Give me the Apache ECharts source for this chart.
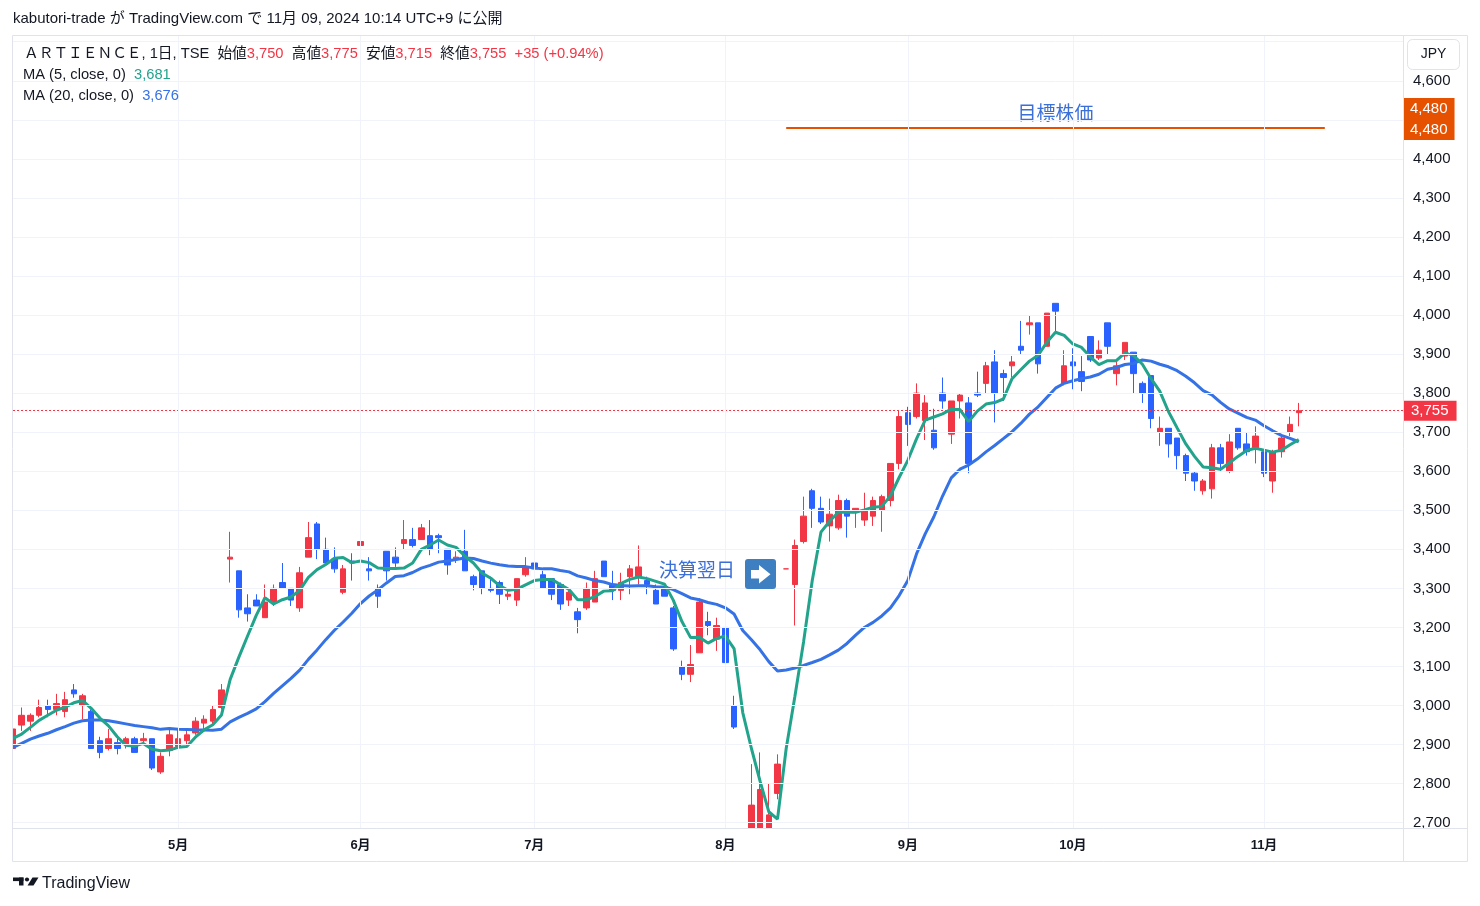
<!DOCTYPE html>
<html><head><meta charset="utf-8">
<script src="https://cdn.jsdelivr.net/npm/echarts@6/dist/echarts.min.js"></script>
<style>html,body{margin:0;padding:0;background:#fff}#c{width:1480px;height:906px}</style>
</head><body><div id="c"></div>
<script>
// ---- data ----
const dates = [
'04/03','04/04','04/05','04/08','04/09','04/10','04/11','04/12','04/15','04/16','04/17','04/18','04/19','04/22','04/23','04/24','04/25','04/26','04/30',
'05/01','05/02','05/07','05/08','05/09','05/10','05/13','05/14','05/15','05/16','05/17','05/20','05/21','05/22','05/23','05/24','05/27','05/28','05/29','05/30','05/31',
'06/03','06/04','06/05','06/06','06/07','06/10','06/11','06/12','06/13','06/14','06/17','06/18','06/19','06/20','06/21','06/24','06/25','06/26','06/27','06/28',
'07/01','07/02','07/03','07/04','07/05','07/08','07/09','07/10','07/11','07/12','07/16','07/17','07/18','07/19','07/22','07/23','07/24','07/25','07/26','07/29','07/30','07/31',
'08/01','08/02','08/05','08/06','08/07','08/08','08/09','08/13','08/14','08/15','08/16','08/19','08/20','08/21','08/22','08/23','08/26','08/27','08/28','08/29','08/30',
'09/02','09/03','09/04','09/05','09/06','09/09','09/10','09/11','09/12','09/13','09/17','09/18','09/19','09/20','09/24','09/25','09/26','09/27','09/30',
'10/01','10/02','10/03','10/04','10/07','10/08','10/09','10/10','10/11','10/15','10/16','10/17','10/18','10/21','10/22','10/23','10/24','10/25','10/28','10/29','10/30','10/31',
'11/01','11/05','11/06','11/07','11/08'];
const futureDates = ['11/11','11/12','11/13','11/14','11/15','11/18','11/19','11/20','11/21','11/22','11/25','11/26'];

const open = [
2890,2950,2960,2975,3000,2990,2985,3040,3000,2985,2910,2890,2905,2900,2915,2910,2915,2830,2885,
2895,2910,2930,2955,2960,2995,3375,3345,3250,3270,3225,3265,3315,3300,3250,3380,3465,3400,3375,3290,3370,
3410,3350,3300,3395,3380,3415,3425,3425,3435,3435,3400,3375,3395,3330,3345,3300,3315,3280,3270,3335,
3365,3335,3325,3310,3270,3240,3250,3265,3370,3310,3295,3330,3330,3320,3295,3305,3250,3100,3080,3135,3215,3170,
3200,3000,2680,2560,2660,2665,2775,3350,3310,3420,3550,3505,3460,3455,3525,3495,3475,3485,3500,3525,3620,
3750,3740,3730,3705,3800,3695,3780,3775,3800,3825,3880,3850,3870,3920,3975,3980,3920,4030,3825,
3880,3855,3945,3890,3980,3850,3895,3905,3825,3845,3700,3710,3685,3640,3595,3550,3555,3660,3600,3710,3670,3660,
3650,3575,3650,3700,3750];
const high = [
2965,2995,2980,3015,3015,3030,3035,3055,3030,2990,2920,2940,2920,2920,2920,2930,2915,2880,2940,
2940,2935,2970,2975,3000,3055,3445,3345,3285,3285,3310,3310,3365,3300,3355,3470,3470,3430,3405,3360,3390,
3460,3380,3310,3395,3405,3475,3455,3465,3475,3440,3400,3395,3450,3335,3345,3330,3320,3295,3325,3380,
3390,3345,3325,3315,3300,3250,3315,3345,3370,3345,3340,3360,3410,3330,3310,3310,3255,3115,3155,3275,3240,3225,
3200,3025,2680,2850,2880,2800,2875,3350,3425,3535,3555,3535,3530,3540,3530,3505,3545,3535,3540,3620,3755,
3765,3825,3795,3760,3840,3780,3800,3790,3855,3880,3910,3860,3895,3985,4000,3980,4005,4030,3910,
3915,3895,3945,3935,3980,3885,3930,3905,3830,3845,3740,3710,3685,3645,3600,3580,3670,3670,3695,3710,3700,3715,
3650,3655,3690,3740,3775];
const low = [
2885,2935,2935,2970,2970,2975,2970,3020,2965,2890,2865,2885,2875,2890,2880,2900,2835,2825,2870,
2890,2900,2925,2940,2950,2990,3315,3225,3215,3255,3225,3255,3300,3255,3240,3380,3375,3365,3340,3285,3320,
3400,3320,3250,3320,3355,3400,3405,3425,3385,3390,3335,3365,3345,3295,3285,3290,3260,3270,3255,3330,
3330,3300,3270,3245,3255,3185,3245,3265,3330,3270,3270,3285,3310,3285,3260,3280,3140,3065,3060,3135,3180,3140,
3100,2940,2445,2540,2640,2640,2760,3350,3205,3415,3455,3465,3420,3450,3430,3455,3460,3460,3445,3510,3605,
3665,3735,3680,3655,3760,3670,3735,3595,3790,3800,3725,3780,3840,3900,3950,3850,3920,3955,3820,
3810,3805,3880,3885,3900,3820,3885,3800,3775,3710,3665,3635,3605,3575,3550,3540,3530,3600,3595,3655,3640,3620,
3585,3545,3635,3690,3715];
const close = [
2940,2975,2975,2995,2990,3005,3015,3030,3025,2890,2880,2915,2890,2915,2880,2915,2840,2870,2925,
2915,2925,2960,2965,2990,3040,3380,3245,3235,3255,3265,3300,3300,3270,3340,3430,3400,3365,3350,3350,3365,
3420,3345,3280,3345,3365,3425,3410,3455,3400,3430,3360,3380,3345,3310,3300,3295,3285,3285,3325,3355,
3350,3300,3285,3260,3290,3220,3300,3325,3330,3295,3315,3350,3355,3310,3260,3280,3145,3080,3105,3265,3205,3205,
3110,2945,2445,2745,2785,2720,2850,3350,3410,3485,3505,3470,3490,3525,3485,3505,3500,3525,3535,3620,3740,
3720,3800,3775,3660,3780,3780,3795,3620,3795,3870,3800,3840,3880,3910,3980,3875,4005,4010,3870,
3870,3830,3885,3910,3920,3870,3930,3850,3800,3735,3710,3670,3640,3595,3575,3575,3660,3620,3675,3660,3650,3690,
3595,3650,3685,3720,3755];
const ma5Head  = [2916, 2927, 2944, 2962];
const ma20Head = [2893,2903,2914,2922,2929,2938,2946,2955,2961,2963,2963,2961,2957,2953,2949,2946,2943,2939,2941];
const targetPrice = 4480;
const targetFrom = '08/13', targetTo = '11/13';

// ---- build ----
const categories = dates.concat(futureDates);
const candles = open.map((o, i) => [o, close[i], low[i], high[i]]);
function movingAvg(n, head) {
  return close.map((c, i) => {
    if (i < n - 1) return head[i];
    let s = 0; for (let k = i - n + 1; k <= i; k++) s += close[k];
    return +(s / n).toFixed(2);
  });
}
const ma5 = movingAvg(5, ma5Head);
const ma20 = movingAvg(20, ma20Head);
const monthOf = s => +s.slice(0, 2);
const isMonthStart = i => i > 0 && i < categories.length && monthOf(categories[i]) !== monthOf(categories[i - 1]);
const fmt = v => Math.round(v).toLocaleString('en-US');
const n = close.length - 1;
const chg = close[n] - close[n - 1];
const chgPct = (chg / close[n - 1] * 100).toFixed(2);
const sgn = chg >= 0 ? '+' : '';

const FONT = "'Liberation Sans', 'Noto Sans CJK JP', sans-serif";
const RED = '#f23645', BLUE = '#2962ff', MA5C = '#22a38b', MA20C = '#3472e6', ORANGE = '#e65100', TXTBLUE = '#3a6fd8';
const GRIDC = '#f0f3fa', FRAME = '#e0e3eb', INK = '#131722';
const LF = 14.7;

const chart = echarts.init(document.getElementById('c'));
chart.setOption({
  animation: false,
  backgroundColor: '#ffffff',
  textStyle: { fontFamily: FONT },
  grid: [
    { left: 13, right: 77, top: 36, bottom: 78, outerBoundsMode: 'none', containLabel: false },
    { left: 13, right: 77, top: 41.7, bottom: 83.3, outerBoundsMode: 'none', containLabel: false }
  ],
  xAxis: [
    { type: 'category', gridIndex: 0, data: categories, boundaryGap: false, z: 10,
      axisLine: { show: false }, axisTick: { show: false },
      axisLabel: { interval: (i) => isMonthStart(i), formatter: (v) => monthOf(v) + '月',
        fontWeight: 'bold', fontSize: 13, color: INK, margin: 11, fontFamily: FONT },
      splitLine: { show: true, interval: (i) => isMonthStart(i), lineStyle: { color: GRIDC, width: 1 } } },
    { type: 'value', gridIndex: 1, min: 0, max: 1, show: false }
  ],
  yAxis: [
    { type: 'value', gridIndex: 0, min: 2686.4, max: 4714.6, show: false, splitLine: { show: false } },
    { type: 'value', gridIndex: 1, min: 2700, max: 4700, interval: 100, position: 'right', z: 10,
      axisLine: { show: false }, axisTick: { show: false },
      axisLabel: { margin: 10, fontSize: 15, color: INK, fontFamily: FONT,
        formatter: v => (v === 4700 || v === 4500) ? '' : fmt(v) },
      splitLine: { show: true, lineStyle: { color: GRIDC, width: 1 } } }
  ],
  series: [
    { type: 'candlestick', name: 'ARTIENCE', xAxisIndex: 0, yAxisIndex: 0, data: candles, barWidth: 6, z: 3, clip: true,
      itemStyle: { color: RED, color0: BLUE, borderColor: RED, borderColor0: BLUE, borderWidth: 1 },
      markLine: {
        silent: true, symbol: ['none', 'none'], animation: false,
        data: [
          [ { coord: [targetFrom, targetPrice], lineStyle: { color: ORANGE, width: 2, type: 'solid' },
              label: { show: true, position: 'insideMiddleTop', distance: 3, formatter: () => '目標株価',
                       color: TXTBLUE, fontSize: 19, fontFamily: FONT } },
            { coord: [targetTo, targetPrice] } ],
          { yAxis: close[n], lineStyle: { color: RED, width: 1, type: [2, 2], opacity: 1 },
            label: { show: true, position: 'end', distance: 0, formatter: () => fmt(close[n]),
                     backgroundColor: RED, color: '#fff', padding: [3, 8, 2, 8], fontSize: 15, fontFamily: FONT } },
          { yAxis: targetPrice, lineStyle: { color: 'rgba(0,0,0,0)', width: 1, opacity: 1 },
            label: { show: true, position: 'end', distance: 0,
              formatter: () => '{tag|' + fmt(targetPrice) + '}\n{tag|' + fmt(targetPrice) + '}\n{sp| }',
              rich: {
                tag: { backgroundColor: ORANGE, color: '#fff', fontSize: 15, padding: [0, 7], height: 21, lineHeight: 21, fontFamily: FONT },
                sp: { fontSize: 10, height: 17, lineHeight: 17 }
              } } }
        ]
      } },
    { type: 'line', name: 'MA20', xAxisIndex: 0, yAxisIndex: 0, data: ma20, showSymbol: false, z: 4,
      lineStyle: { color: MA20C, width: 3 }, itemStyle: { color: MA20C } },
    { type: 'line', name: 'MA5', xAxisIndex: 0, yAxisIndex: 0, data: ma5, showSymbol: false, z: 5,
      lineStyle: { color: MA5C, width: 3 }, itemStyle: { color: MA5C } }
  ],
  graphic: { elements: [
    // masks that keep marks inside the plotting pane (like the reference's clipping)
    { type: 'rect', z: 6, silent: true, shape: { x: 0, y: 829, width: 1480, height: 77 }, style: { fill: '#ffffff' } },
    { type: 'rect', z: 6, silent: true, shape: { x: 0, y: 30, width: 12.5, height: 800 }, style: { fill: '#ffffff' } },
    // frame
    { type: 'rect', z: 50, silent: true, shape: { x: 12.5, y: 35.5, width: 1455, height: 826 }, style: { fill: 'none', stroke: FRAME, lineWidth: 1 } },
    { type: 'line', z: 50, silent: true, shape: { x1: 1403.5, y1: 35.5, x2: 1403.5, y2: 861.5 }, style: { stroke: FRAME, lineWidth: 1 } },
    { type: 'line', z: 50, silent: true, shape: { x1: 12.5, y1: 828.5, x2: 1467.5, y2: 828.5 }, style: { stroke: FRAME, lineWidth: 1 } },
    { type: 'rect', z: 50, silent: true, shape: { x: 1407.5, y: 39.5, width: 52, height: 30, r: 5 }, style: { fill: '#fff', stroke: FRAME, lineWidth: 1 } },
    { type: 'text', z: 51, silent: true, x: 1433.5, y: 54.5, style: { text: 'JPY', fill: INK, font: '14px ' + FONT, align: 'center', verticalAlign: 'middle' } },
    { type: 'text', z: 51, silent: true, x: 13, y: 19, style: { text: 'kabutori-trade が TradingView.com で 11月 09, 2024 10:14 UTC+9 に公開', fill: INK, font: '15px ' + FONT, verticalAlign: 'middle' } },
    { type: 'text', z: 51, silent: true, x: 24, y: 54, style: {
        text: '{n|ＡＲＴＩＥＮＣＥ, 1日, TSE  始値}{v|' + fmt(open[n]) + '}{n|  高値}{v|' + fmt(high[n]) + '}{n|  安値}{v|' + fmt(low[n]) +
              '}{n|  終値}{v|' + fmt(close[n]) + '  ' + sgn + chg + ' (' + sgn + chgPct + '%)}',
        verticalAlign: 'middle',
        rich: { n: { fontSize: LF, fill: INK, fontFamily: FONT }, v: { fontSize: LF, fill: RED, fontFamily: FONT } } } },
    { type: 'text', z: 51, silent: true, x: 23, y: 75, style: {
        text: '{n|MA (5, close, 0)  }{g|' + fmt(ma5[n]) + '}', verticalAlign: 'middle',
        rich: { n: { fontSize: LF, fill: INK, fontFamily: FONT }, g: { fontSize: LF, fill: MA5C, fontFamily: FONT } } } },
    { type: 'text', z: 51, silent: true, x: 23, y: 96, style: {
        text: '{n|MA (20, close, 0)  }{g|' + fmt(ma20[n]) + '}', verticalAlign: 'middle',
        rich: { n: { fontSize: LF, fill: INK, fontFamily: FONT }, g: { fontSize: LF, fill: MA20C, fontFamily: FONT } } } },
    // earnings annotation
    { type: 'text', z: 60, silent: true, x: 659, y: 572, style: { text: '決算翌日', fill: TXTBLUE, font: '19px ' + FONT, verticalAlign: 'middle' } },
    { type: 'rect', z: 60, silent: true, shape: { x: 745, y: 559, width: 31, height: 30, r: 3 }, style: { fill: '#3d7fc1' } },
    { type: 'polygon', z: 61, silent: true, shape: { points: [[751, 570], [759, 570], [759, 565], [770.5, 574.3], [759, 583.5], [759, 578.5], [751, 578.5]] }, style: { fill: '#ffffff' } },
    // TradingView logo
    { type: 'rect', z: 60, silent: true, shape: { x: 13, y: 877.5, width: 10.5, height: 3.6 }, style: { fill: INK } },
    { type: 'rect', z: 60, silent: true, shape: { x: 19, y: 877.5, width: 4.5, height: 8 }, style: { fill: INK } },
    { type: 'circle', z: 60, silent: true, shape: { cx: 27, cy: 879.5, r: 2.1 }, style: { fill: INK } },
    { type: 'polygon', z: 60, silent: true, shape: { points: [[32.5, 877.5], [38.5, 877.5], [33.5, 885.5], [27.5, 885.5]] }, style: { fill: INK } },
    { type: 'text', z: 60, silent: true, x: 42, y: 884, style: { text: 'TradingView', fill: INK, font: '16px ' + FONT, verticalAlign: 'middle' } }
  ] }
});
</script>
</body></html>
